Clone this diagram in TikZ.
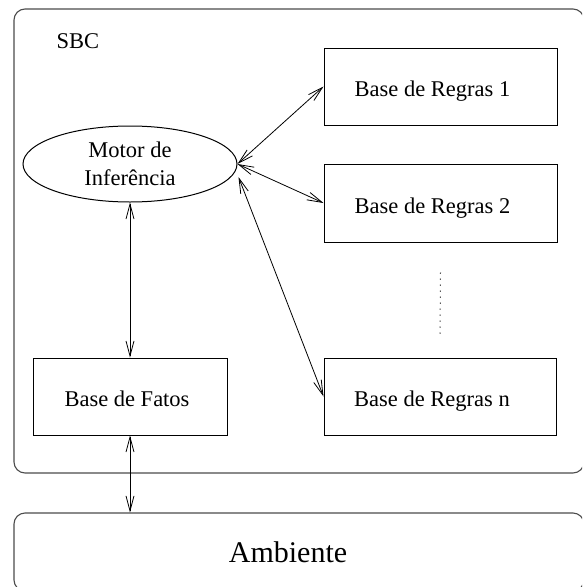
\documentclass[tikz,border=0pt]{standalone}
\usepackage{fontspec}
\setmainfont{Liberation Serif}
\usetikzlibrary{shapes.geometric,arrows.meta,calc}
\begin{document}
\begin{tikzpicture}[x=1pt,y=-1pt,
  txt/.style={font=\fontsize{22.5}{28}\selectfont},
  box/.style={draw=black, line width=1pt, rectangle, minimum width=233pt, minimum height=77pt, inner sep=0pt, txt, text height=24pt, text depth=4pt},
  outer/.style={draw=black!70, line width=1.1pt, rectangle, rounded corners=11pt, inner sep=0pt},
  conn/.style={line width=0.8pt, {Straight Barb[length=15pt,width=8pt]}-{Straight Barb[length=15pt,width=8pt]}}
]
\path[use as bounding box, clip] (0,0) rectangle (582,587);
% outer containers
\node[outer, minimum width=570pt, minimum height=464pt] (sbc) at (299,241) {};
\node[txt, anchor=base west] (sbclabel) at (53,48) {SBC};
\node[outer, minimum width=570pt, minimum height=78pt] (amb) at (299,552) {};
\node[font=\fontsize{30}{36}\selectfont] (ambtext) at (288,552) {Ambiente};
% inner elements
\node[draw=black, line width=1pt, ellipse, minimum width=214pt, minimum height=76pt, inner sep=0pt, txt, align=center] (mot) at (130,164) {Motor de\\Inferência};
\node[box] (r1) at (440.5,86.5) {Base de Regras 1\hspace*{16pt}};
\node[box, minimum height=78pt] (r2) at (440.5,203) {Base de Regras 2\hspace*{16pt}};
\node[box, minimum width=232pt] (rn) at (440,396.5) {Base de Regras n\hspace*{16pt}};
\node[box, minimum width=194pt] (fatos) at (130,396.5) {Base de Fatos\hspace*{6pt}};
% connectors
\coordinate (motlow) at ($(mot.east)+(1,13)$);
\draw[conn] (mot.south) -- (fatos.north);
\draw[conn] (fatos.south) -- (fatos.south |- amb.north);
\draw[conn] (mot.east) -- (r1.west);
\draw[conn] (mot.east) -- (r2.west);
\draw[conn] (motlow) -- (rn.west);
% ellipsis dots
\draw[line width=1pt, dash pattern=on 1pt off 5pt] ($(r2.south)+(0,30)$) -- ($(rn.north)+(0,-21)$);
\end{tikzpicture}
\end{document}
